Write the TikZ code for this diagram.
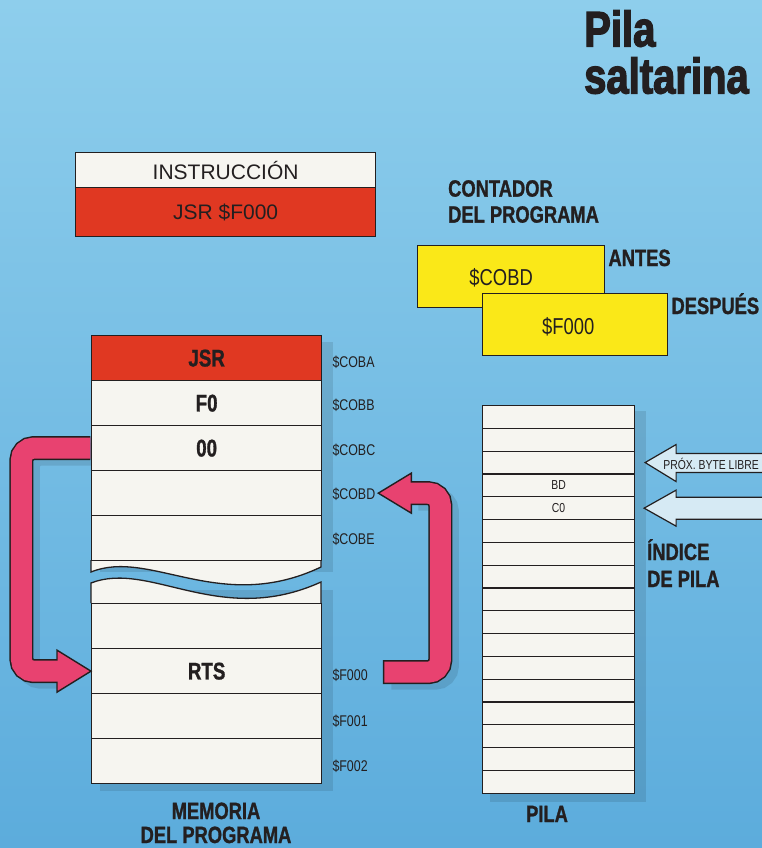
\documentclass[tikz,border=0pt]{standalone}
\usepackage{fontspec}
\setmainfont{Liberation Sans}
\newfontfamily\cnd{Liberation Sans}[FakeStretch=0.8]
\newfontfamily\cndh{Liberation Sans}[FakeStretch=0.78,FakeBold=1.2]
\newfontfamily\ttlf{Liberation Sans}[FakeStretch=0.8,FakeBold=2.5]
\usetikzlibrary{calc}
\pgfdeclarelayer{back}
\pgfdeclarelayer{shad}
\pgfsetlayers{back,shad,main}
\definecolor{bgtop}{RGB}{142,206,236}
\definecolor{bgbot}{RGB}{92,172,220}
\definecolor{redc}{RGB}{224,56,34}
\definecolor{pinkc}{RGB}{232,66,112}
\definecolor{yel}{RGB}{250,232,24}
\definecolor{paper}{RGB}{246,245,240}
\definecolor{palec}{RGB}{214,234,244}
\definecolor{ink}{RGB}{35,31,32}
\begin{document}
\begin{tikzpicture}[x=1pt,y=-1pt,
 cell/.style={draw=ink,line width=1.3pt,fill=paper,minimum width=230pt,minimum height=45pt,inner sep=0pt,anchor=north west,font=\cndh\bfseries\fontsize{24}{24}\selectfont,text=ink},
 scell/.style={draw=ink,line width=1.1pt,fill=paper,minimum width=152pt,minimum height=22.8pt,inner sep=0pt,anchor=north west},
 stxt/.style={inner sep=0pt,text=ink,font=\cnd\fontsize{13}{13}\selectfont},
 addr/.style={anchor=west,inner sep=0pt,text=ink,font=\cnd\fontsize{15.5}{15.5}\selectfont},
 hd/.style={inner sep=0pt,text=ink,font=\cndh\bfseries\fontsize{23.5}{26}\selectfont},
 ttl/.style={inner sep=0pt,text=ink,font=\ttlf\bfseries\fontsize{50}{47}\selectfont},
 ybox/.style={draw=ink,line width=1.3pt,fill=yel,minimum width=187pt,minimum height=62pt,inner sep=0pt,anchor=north west},
 ytext/.style={inner sep=0pt,text=ink,font=\cnd\fontsize{23}{23}\selectfont},
 ibox/.style={draw=ink,line width=1.3pt,minimum width=300pt,inner sep=0pt,anchor=north west,text=ink,font=\fontsize{21}{21}\selectfont},
 paletip/.style={draw=ink,line width=1.2pt,fill=palec,line join=miter},
 shaftout/.style={draw=ink,line width=24pt,rounded corners=12pt},
 shaftin/.style={draw=pinkc,line width=21pt,rounded corners=12pt},
 pinkhead/.style={draw=ink,line width=1.4pt,fill=pinkc,line join=miter},
 colshadow/.style={fill=black,fill opacity=0.1},
 arrshadow/.style={draw=black,draw opacity=0.1,line width=23pt,rounded corners=12pt}
]
\useasboundingbox (0,0) rectangle (762,848);
\begin{pgfonlayer}{back}
\shade[top color=bgtop,bottom color=bgbot] (0,0) rectangle (762,848);
\end{pgfonlayer}

% title
\node[ttl,anchor=north west,align=left] (title) at (584,10) {Pila\\saltarina};

% instruction
\node[ibox,fill=paper,minimum height=35pt] (iTop) at (75,152) {INSTRUCCIÓN};
\node[ibox,fill=redc,minimum height=49pt] (iBot) at (75,187) {JSR \$F000};

% program counter
\node[hd,anchor=north west,align=left] (cont) at (448,180) {CONTADOR\\DEL PROGRAMA};
\node[ybox] (yA) at (417,245) {};
\node[ytext] (tA) at ($(yA.center)+(-10,1)$) {\$COBD};
\node[ybox,minimum width=185pt] (yD) at (482,293) {};
\node[ytext] (tD) at ($(yD.center)+(-7,2)$) {\$F000};
\node[hd,anchor=base west] (antes) at ($(yA.north east)+(3,21)$) {ANTES};
\node[hd,anchor=base west] (desp) at ($(yD.north east)+(3,21)$) {DESPUÉS};

% memory wave stubs
\draw[draw=ink,line width=1.3pt,fill=paper] (91,560) -- (91,572) .. controls (150,548) and (220,615) .. (321,567) -- (321,560);
\draw[draw=ink,line width=1.3pt,fill=paper] (91,603) -- (91,583) .. controls (150,560) and (220,628) .. (321,582) -- (321,603);

% memory cells
\node[cell,fill=redc] (mJSR) at (91,335) {JSR};
\node[cell] (mF0) at (91,380) {F0};
\node[cell] (m00) at (91,425) {00};
\node[cell] (mE1) at (91,470) {};
\node[cell] (mE2) at (91,515) {};
\node[cell] (mE3) at (91,603) {};
\node[cell] (mRTS) at (91,648) {RTS};
\node[cell] (mF1) at (91,693) {};
\node[cell] (mF2) at (91,738) {};

\node[addr] (aC0BA) at ($(mJSR.east)+(10,4)$) {\$COBA};
\node[addr] (aC0BB) at ($(mF0.east)+(10,2)$) {\$COBB};
\node[addr] (aC0BC) at ($(m00.east)+(10,2)$) {\$COBC};
\node[addr] (aC0BD) at ($(mE1.east)+(10,1)$) {\$COBD};
\node[addr] (aC0BE) at ($(mE2.east)+(10,1)$) {\$COBE};
\node[addr] (aF000) at ($(mRTS.east)+(10,4)$) {\$F000};
\node[addr] (aF001) at ($(mF1.east)+(10,5)$) {\$F001};
\node[addr] (aF002) at ($(mF2.east)+(10,5)$) {\$F002};

\begin{pgfonlayer}{shad}
\fill[colshadow] (100,342) rectangle (333,572);
\fill[colshadow] (100,590) rectangle (333,791);
\end{pgfonlayer}

% stack
\foreach \i in {1,...,17}{\node[scell] (s\i) at (482,{405+22.8*(\i-1)}) {};}
\node[stxt] (bd) at (s4) {BD};
\node[stxt] (c0) at (s5) {C0};
\begin{pgfonlayer}{shad}
\fill[colshadow] ($(s1.north west)+(8,6)$) rectangle ($(s17.south east)+(11,8)$);
\end{pgfonlayer}

% stack pointers
\coordinate (p1) at ($(s3.east)+(10,0)$);
\draw[paletip] (p1) -- ++(31,-18) -- ++(0,9) -- ++(92,0) -- ++(0,19) -- ++(-92,0) -- ++(0,9) -- cycle;
\node[stxt] (prox) at ($(p1)+(66,1)$) {PRÓX. BYTE LIBRE};
\coordinate (p2) at ($(s5.east)+(9,0)$);
\draw[paletip] (p2) -- ++(32,-18) -- ++(0,7) -- ++(92,0) -- ++(0,22) -- ++(-92,0) -- ++(0,7) -- cycle;
\node[hd,anchor=base west] (ind1) at (647,560) {ÍNDICE};
\node[hd,anchor=base west] (ind2) at (647,587) {DE PILA};

% left pink arrow (JSR jump)
\coordinate (la1) at ($(m00.west)+(-0.6,0)$);
\coordinate (la3) at ($(mRTS.west)+(-34,0)$);
\begin{pgfonlayer}{shad}
\draw[arrshadow] ($(la1)+(7,6)$) -- ++(-69,0) |- ($(la3)+(7,6)$);
\end{pgfonlayer}
\draw[shaftout] (la1) -- ++(-69,0) |- (la3);
\draw[pinkhead] (mRTS.west) -- ++(-34,-21) -- ++(0,42) -- cycle;
\draw[shaftin] (la1) -- ++(-69,0) |- ($(la3)+(2,0)$);

% right pink arrow (RTS return)
\coordinate (ra1) at ($(mRTS.east)+(62,1)$);
\coordinate (rtip) at ($(mE1.east)+(56,0)$);
\coordinate (ra3) at ($(rtip)+(33,0)$);
\begin{pgfonlayer}{shad}
\draw[arrshadow] ($(ra1)+(7,6)$) -- ++(56,0) |- ($(ra3)+(7,6)$);
\end{pgfonlayer}
\draw[shaftout] ($(ra1)+(-1.5,0)$) -- ++(57.5,0) |- (ra3);
\draw[pinkhead] (rtip) -- ++(33,-20) -- ++(0,40) -- cycle;
\draw[shaftin] (ra1) -- ++(56,0) |- ($(ra3)+(-2,0)$);

% captions
\node[hd,anchor=base] (mem1) at (216,819) {MEMORIA};
\node[hd,anchor=base] (mem2) at (216,843) {DEL PROGRAMA};
\node[hd,anchor=base] (pila) at (547,822) {PILA};
\end{tikzpicture}
\end{document}
